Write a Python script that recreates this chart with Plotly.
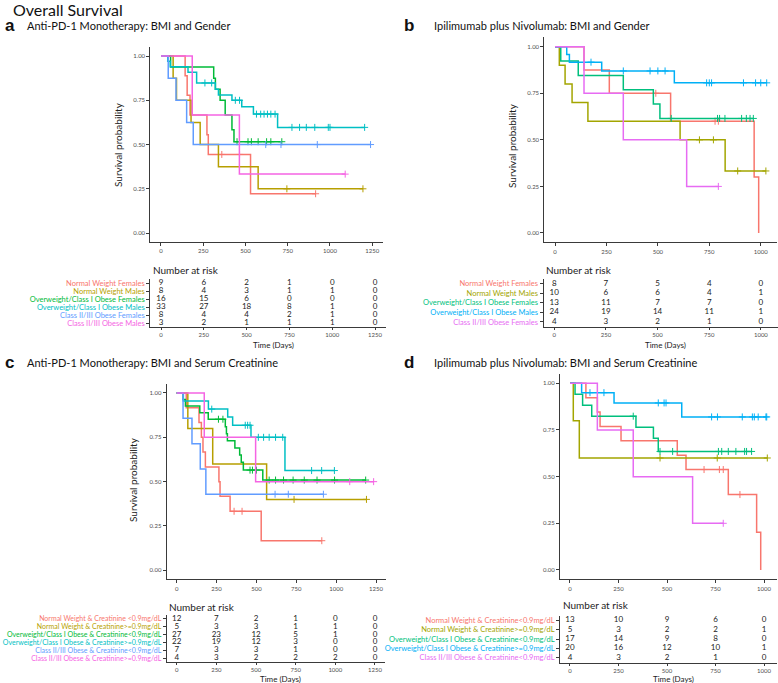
import plotly.graph_objects as go

W, H = 778, 683

pal6 = ["#F8766D", "#B79F00", "#00BA38", "#00BFC4", "#619CFF", "#F564E3"]
pal5 = ["#F8766D", "#A3A500", "#00BF7D", "#00B0F6", "#E76BF3"]

# ---------------- Panel a: Anti-PD-1 Monotherapy, BMI and Gender ----------------
a_labels = ["Normal Weight Females", "Normal Weight Males", "Overweight/Class I Obese Females",
            "Overweight/Class I Obese Males", "Class II/III Obese Females", "Class II/III Obese Males"]
a_event_t = [[143, 155, 172, 272, 280, 530],
             [72, 92, 178, 232, 340, 575],
             [57, 312, 322, 350, 380, 420, 432],
             [40, 55, 160, 211, 322, 340, 420, 478, 547, 690],
             [43, 89, 152, 191],
             [185, 464]]
a_event_s = [[0.889, 0.778, 0.667, 0.556, 0.444, 0.222],
             [0.875, 0.75, 0.625, 0.5, 0.375, 0.25],
             [0.9375, 0.875, 0.8125, 0.75, 0.667, 0.583, 0.516],
             [0.97, 0.94, 0.909, 0.848, 0.813, 0.78, 0.75, 0.714, 0.672, 0.597],
             [0.875, 0.75, 0.625, 0.5],
             [0.667, 0.333]]
a_cens_t = [[360, 465, 915],
            [745, 1195],
            [450, 515, 535, 575, 625, 650, 715],
            [260, 300, 440, 465, 565, 590, 610, 630, 650, 675, 775, 820, 860, 910, 990, 1000, 1205],
            [620, 710, 925, 1240],
            [1090]]
a_risk = [[9, 6, 2, 1, 0, 0],
          [8, 4, 3, 1, 1, 0],
          [16, 15, 6, 0, 0, 0],
          [33, 27, 18, 8, 1, 0],
          [8, 4, 4, 2, 1, 0],
          [3, 2, 1, 1, 1, 0]]
a_ticks = [0, 250, 500, 750, 1000, 1250]

# ---------------- Panel b: Ipilimumab plus Nivolumab, BMI and Gender ----------------
b_labels = ["Normal Weight Females", "Normal Weight Males", "Overweight/Class I Obese Females",
            "Overweight/Class I Obese Males", "Class II/III Obese Females"]
b_event_t = [[141, 264, 562, 968, 990],
             [21, 49, 83, 160, 608, 827],
             [28, 113, 332, 478, 510],
             [57, 70, 227, 580],
             [141, 332, 640]]
b_event_s = [[0.875, 0.75, 0.6, 0.3, 0.0],
             [0.9, 0.8, 0.7, 0.6, 0.5, 0.333],
             [0.923, 0.846, 0.769, 0.692, 0.615],
             [0.958, 0.917, 0.87, 0.806],
             [0.75, 0.5, 0.25]]
b_cens_t = [[490, 778, 794],
            [702, 770, 888, 1025],
            [565, 790, 800, 826, 907, 930, 948, 964],
            [175, 332, 462, 500, 535, 737, 750, 761, 916, 975, 1000, 1029],
            [794]]
b_risk = [[8, 7, 5, 4, 0],
          [10, 6, 6, 4, 1],
          [13, 11, 7, 7, 0],
          [24, 19, 14, 11, 1],
          [4, 3, 2, 1, 0]]
b_ticks = [0, 250, 500, 750, 1000]

# ---------------- Panel c: Anti-PD-1 Monotherapy, BMI and Serum Creatinine ----------------
c_labels = ["Normal Weight & Creatinine <0.9mg/dL", "Normal Weight & Creatinine>=0.9mg/dL",
            "Overweight/Class I Obese & Creatinine<0.9mg/dL", "Overweight/Class I Obese & Creatinine>=0.9mg/dL",
            "Class II/III Obese & Creatinine<0.9mg/dL", "Class II/III Obese & Creatinine>=0.9mg/dL"]
c_event_t = [[60, 140, 155, 165, 180, 265, 272, 335, 530],
             [70, 226, 564],
             [40, 55, 145, 198, 305, 312, 318, 365, 395, 405, 418, 540],
             [42, 199, 320, 351, 466, 679],
             [40, 96, 148, 183],
             [173, 495]]
c_event_s = [[0.917, 0.833, 0.75, 0.667, 0.583, 0.5, 0.417, 0.333, 0.167],
             [0.8, 0.6, 0.4],
             [0.963, 0.926, 0.889, 0.852, 0.81, 0.77, 0.73, 0.69, 0.65, 0.61, 0.565, 0.509],
             [0.955, 0.909, 0.864, 0.818, 0.75, 0.5625],
             [0.857, 0.714, 0.571, 0.429],
             [0.75, 0.5]]
c_cens_t = [[360, 410, 910],
            [736, 1190],
            [262, 290, 460, 475, 500, 580, 620, 670, 730, 800, 880, 990, 1185],
            [220, 430, 445, 460, 512, 545, 580, 620, 665, 846, 909, 989],
            [617, 700, 920],
            [1085, 1235]]
c_risk = [[12, 7, 2, 1, 0, 0],
          [5, 3, 3, 1, 1, 0],
          [27, 23, 12, 5, 1, 0],
          [22, 19, 12, 3, 0, 0],
          [7, 3, 3, 1, 0, 0],
          [4, 3, 2, 2, 2, 0]]
c_ticks = [0, 250, 500, 750, 1000, 1250]

# ---------------- Panel d: Ipilimumab plus Nivolumab, BMI and Serum Creatinine ----------------
d_labels = ["Normal Weight & Creatinine<0.9mg/dL", "Normal Weight & Creatinine>=0.9mg/dL",
            "Overweight/Class I Obese & Creatinine<0.9mg/dL", "Overweight/Class I Obese & Creatinine>=0.9mg/dL",
            "Class II/III Obese & Creatinine<0.9mg/dL"]
d_event_t = [[82, 141, 155, 263, 553, 598, 816, 962, 983],
             [17, 48],
             [26, 65, 112, 340, 430, 455],
             [60, 227, 576],
             [141, 326, 632]]
d_event_s = [[0.923, 0.846, 0.769, 0.692, 0.615, 0.538, 0.404, 0.202, 0.0],
             [0.8, 0.6],
             [0.941, 0.882, 0.824, 0.765, 0.706, 0.635],
             [0.95, 0.895, 0.82],
             [0.75, 0.5, 0.25]]
d_cens_t = [[691, 770, 790, 876],
            [464, 759, 1017],
            [326, 464, 529, 765, 782, 816, 855, 900, 910, 936],
            [103, 175, 455, 485, 495, 730, 760, 888, 940, 950, 970, 1010, 1014],
            [790]]
d_risk = [[13, 10, 9, 6, 0],
          [5, 3, 2, 2, 1],
          [17, 14, 9, 8, 0],
          [20, 16, 12, 10, 1],
          [4, 3, 2, 1, 0]]
d_ticks = [0, 250, 500, 750, 1000]

surv_ticks = [0, 0.25, 0.5, 0.75, 1.0]
surv_ticktext = ["0.00", "0.25", "0.50", "0.75", "1.00"]

FONT = "Lato"
AXC = "#3a3a3a"
TICKC = "#4d4d4d"


def fx(px):
    return px / W


def fy(py):
    return 1 - py / H


def surv_at(t, ts, ss):
    v = 1.0
    for ti, si in zip(ts, ss):
        if ti <= t:
            v = si
    return v


panels = [
    dict(labels=a_labels, et=a_event_t, es=a_event_s, ct=a_cens_t, risk=a_risk, ticks=a_ticks, pal=pal6,
         xr=[-62.5, 1312.5], px=(150.4, 382.8), py=(47.2, 241.9), tx=(150.3, 385.7), ty=(279, 327),
         ylab=(118, 145), nar=(151, 270), time=(345,), lfs=7.5),
    dict(labels=b_labels, et=b_event_t, es=b_event_s, ct=b_cens_t, risk=b_risk, ticks=b_ticks, pal=pal5,
         xr=[-51.5, 1080.5], px=(544.4, 777.3), py=(37.4, 242.3), tx=(543.6, 777.5), ty=(278.7, 326.7),
         ylab=(512, 145), nar=(544, 270), time=(345,), lfs=7.5),
    dict(labels=c_labels, et=c_event_t, es=c_event_s, ct=c_cens_t, risk=c_risk, ticks=c_ticks, pal=pal6,
         xr=[-62.5, 1312.5], px=(166.7, 386.0), py=(384.1, 579.2), tx=(166.8, 384.9), ty=(615, 662.0),
         ylab=(133, 480), nar=(166.7, 607), time=(679,), lfs=7.0),
    dict(labels=d_labels, et=d_event_t, es=d_event_s, ct=d_cens_t, risk=d_risk, ticks=d_ticks, pal=pal5,
         xr=[-51, 1068], px=(560.1, 777.2), py=(374.0, 579.3), tx=(560.1, 777.2), ty=(615.8, 662.5),
         ylab=None, nar=(560.7, 605), time=(679,), lfs=7.5),
]

fig = go.Figure()
layout = dict(width=W, height=H, margin=dict(l=0, r=0, t=0, b=0, autoexpand=False), showlegend=False,
              template="none", paper_bgcolor="white", plot_bgcolor="white",
              font=dict(family=FONT, size=8, color="#222"))
annotations = []


def ann(x, y, text, size, xanchor="center", color="#222", family=FONT, angle=0):
    annotations.append(dict(x=fx(x), y=fy(y), xref="paper", yref="paper", text=text, showarrow=False,
                            xanchor=xanchor, yanchor="middle", textangle=angle,
                            font=dict(size=size, color=color, family=family)))


for i, p in enumerate(panels):
    k = i + 1
    kt = i + 5
    xa = "x" if k == 1 else f"x{k}"
    ya = "y" if k == 1 else f"y{k}"
    xt, yt = f"x{kt}", f"y{kt}"

    # survival curves
    for g in range(len(p["labels"])):
        ts, ss, cs = p["et"][g], p["es"][g], p["ct"][g]
        col = p["pal"][g]
        end = max(ts + cs)
        xs = [0] + ts + [end]
        ys = [1.0] + ss + [ss[-1]]
        fig.add_trace(go.Scatter(x=xs, y=ys, mode="lines", line=dict(color=col, width=1.5, shape="hv"),
                                 xaxis=xa, yaxis=ya, hoverinfo="skip"))
        fig.add_trace(go.Scatter(x=cs, y=[surv_at(c, ts, ss) for c in cs], mode="markers",
                                 marker=dict(symbol="cross-thin-open", size=5, color=col,
                                             line=dict(color=col, width=1)),
                                 xaxis=xa, yaxis=ya, hoverinfo="skip"))

    # risk table
    n = len(p["labels"])
    for g in range(n):
        fig.add_trace(go.Scatter(x=p["ticks"], y=[n - g] * len(p["ticks"]), mode="text",
                                 text=[str(v) for v in p["risk"][g]],
                                 textfont=dict(size=8, color="#222", family=FONT),
                                 xaxis=xt, yaxis=yt, hoverinfo="skip", cliponaxis=False))

    axis_common = dict(showline=True, linecolor=AXC, linewidth=1.2, ticks="outside", ticklen=3,
                       tickcolor=AXC, tickwidth=1, showgrid=False, zeroline=False, automargin=False,
                       tickfont=dict(size=6, color=TICKC, family=FONT))
    layout["xaxis" if k == 1 else f"xaxis{k}"] = dict(
        axis_common, domain=[fx(p["px"][0]), fx(p["px"][1])], range=p["xr"], anchor=ya,
        tickvals=p["ticks"])
    layout["yaxis" if k == 1 else f"yaxis{k}"] = dict(
        axis_common, domain=[fy(p["py"][1]), fy(p["py"][0])], range=[-0.05, 1.05], anchor=xa,
        tickvals=surv_ticks, ticktext=surv_ticktext)
    layout[f"xaxis{kt}"] = dict(
        axis_common, domain=[fx(p["tx"][0]), fx(p["tx"][1])], range=p["xr"], anchor=yt,
        tickvals=p["ticks"], ticklen=2)
    layout[f"yaxis{kt}"] = dict(
        axis_common, domain=[fy(p["ty"][1]), fy(p["ty"][0])], range=[0.5, n + 0.5], anchor=xt,
        tickvals=[n - g for g in range(n)],
        ticktext=[f"<span style='color:{p['pal'][g]}'>{p['labels'][g]}</span>" for g in range(n)],
        tickfont=dict(size=p["lfs"], family=FONT))

    if p["ylab"]:
        ann(p["ylab"][0], p["ylab"][1], "Survival probability", 10, angle=-90)
    ann(p["nar"][0], p["nar"][1], "Number at risk", 10, xanchor="left")
    ann((p["tx"][0] + p["tx"][1]) / 2 + 5, p["time"][0], "Time (Days)", 8)

# titles
ann(11, 9, "Overall Survival", 16, xanchor="left", color="#111")
titles = [("a", "Anti-PD-1 Monotherapy: BMI and Gender", 3, 25, 25),
          ("b", "Ipilimumab plus Nivolumab: BMI and Gender", 402, 432, 25),
          ("c", "Anti-PD-1 Monotherapy: BMI and Serum Creatinine", 3, 25, 362),
          ("d", "Ipilimumab plus Nivolumab: BMI and Serum Creatinine", 402, 432, 362)]
for letter, txt, lx, tx, y in titles:
    ann(lx, y, f"<b>{letter}</b>", 17, xanchor="left", color="#111", family="Liberation Sans")
    ann(tx, y, txt, 11, xanchor="left", color="#111")

layout["annotations"] = annotations
fig.update_layout(**layout)
fig.write_html("out.html", config={"displayModeBar": False},
               post_script="document.body.style.margin='0';document.body.style.padding='0';")
